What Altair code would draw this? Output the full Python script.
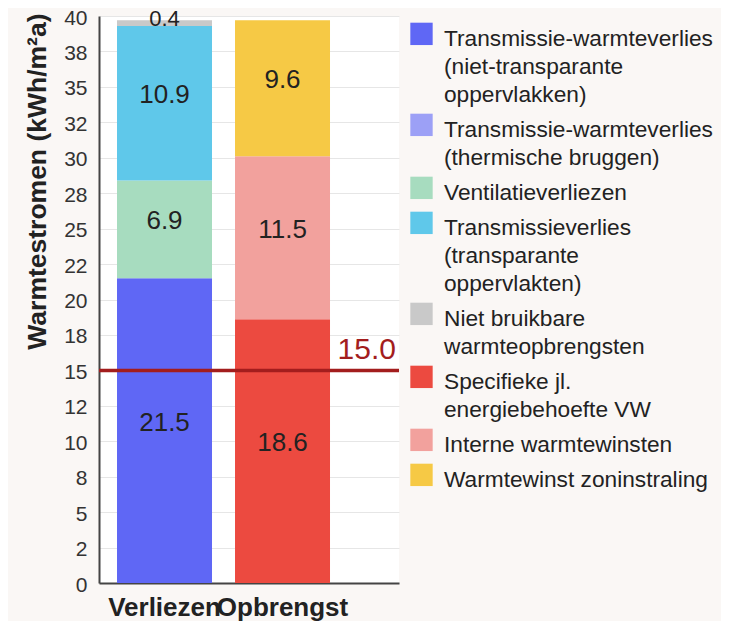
import altair as alt
import pandas as pd

# ---- data ----
BARS = ["Verliezen", "Opbrengst"]
SERIES_LINES = [
    ["Transmissie-warmteverlies", "(niet-transparante", "oppervlakken)"],
    ["Transmissie-warmteverlies", "(thermische bruggen)"],
    ["Ventilatieverliezen"],
    ["Transmissieverlies", "(transparante", "oppervlakten)"],
    ["Niet bruikbare", "warmteopbrengsten"],
    ["Specifieke jl.", "energiebehoefte VW"],
    ["Interne warmtewinsten"],
    ["Warmtewinst zoninstraling"],
]
COLORS = ["#5f67f5", "#9ca0f6", "#a7dcbf", "#5fc8ea", "#c9c9c9", "#ec4a40", "#f2a19d", "#f6c945"]
BAR_OF_SERIES = ["Verliezen", "Verliezen", "Verliezen", "Verliezen", "Verliezen",
                 "Opbrengst", "Opbrengst", "Opbrengst"]
VALUES = [21.5, 0.0, 6.9, 10.9, 0.4, 18.6, 11.5, 9.6]
THRESHOLD = [15.0]
TICK_VALUES = [0, 2.5, 5, 7.5, 10, 12.5, 15, 17.5, 20, 22.5, 25, 27.5, 30, 32.5, 35, 37.5, 40]
TICK_LABELS = ["0", "2", "5", "8", "10", "12", "15", "18", "20", "22", "25", "28", "30", "32", "35", "38", "40"]

INDENT = "\u2002"
SERIES = ["|".join([lines[0]] + [INDENT + l for l in lines[1:]]) for lines in SERIES_LINES]

df = pd.DataFrame({
    "bar": BAR_OF_SERIES,
    "series": SERIES,
    "order": list(range(len(SERIES))),
    "value": VALUES,
})
df_thr = pd.DataFrame({"thr": THRESHOLD})

FONT = "Liberation Sans"
label_expr = "[" + ",".join("'%s'" % t for t in TICK_LABELS) + "][indexof([" + \
    ",".join(str(v) for v in TICK_VALUES) + "], datum.value)]"

base = alt.Chart(df).transform_stack(
    stack="value", groupby=["bar"], sort=[alt.SortField("order", order="ascending")],
    as_=["y0", "y1"]
).transform_calculate(mid="(datum.y0 + datum.y1) / 2")

X_SCALE = alt.Scale(paddingInner=0.195, paddingOuter=0.3686, align=0.207)
x_axis = alt.Axis(labelAngle=0, labelFont=FONT, labelFontSize=26, labelFontWeight="bold",
                  labelColor="#222222", labelPadding=11, ticks=False, domainColor="#444444",
                  domainWidth=2, labelOverlap=False, grid=False, labelBaseline="top",
                  labelLineHeight=26)

Y_SCALE = alt.Scale(domain=[0, 40], nice=False)
y_axis = alt.Axis(
    values=TICK_VALUES, labelExpr=label_expr, grid=True, gridColor="#e6e6e6", gridWidth=1,
    ticks=False, domainColor="#444444", domainWidth=2, labelFont=FONT, labelFontSize=21,
    labelColor="#333333", labelPadding=12, labelOverlap=False, labelOffset=2,
    labelLineHeight=21,
    title="Warmtestromen (kWh/m²a)", titleFont=FONT, titleFontSize=26.5, titleFontWeight="bold",
    titleColor="#222222", titleAngle=270, titleAlign="right", titleBaseline="middle",
    titleX=-62, titleY=-3,
)
Y_TITLE = "Warmtestromen (kWh/m²a)"


def xenc():
    return alt.X("bar:N", sort=BARS, title=None, scale=X_SCALE, axis=x_axis)


def yenc(field):
    return alt.Y(field, title=Y_TITLE, scale=Y_SCALE, axis=y_axis)


bars = base.mark_bar().encode(
    x=xenc(),
    y=yenc("y0:Q"),
    y2="y1:Q",
    color=alt.Color(
        "series:N",
        scale=alt.Scale(domain=SERIES, range=COLORS),
        legend=alt.Legend(
            title=None, orient="none", legendX=311, legendY=0, padding=0,
            symbolType="M-1,-0.43H1V1.57H-1Z", symbolSize=500, symbolStrokeWidth=0,
            symbolOpacity=1,
            labelFont=FONT, labelFontSize=22.7, labelColor="#222222", labelOffset=11,
            labelLimit=400, labelBaseline="top", rowPadding=-0.4,
            labelExpr="split(datum.label, '|')",
        ),
    ),
    order=alt.Order("order:Q"),
)

labels = base.transform_filter("datum.value >= 1").mark_text(
    font=FONT, color="#222222", baseline="alphabetic", align="center", fontSize=26
).encode(
    x=xenc(),
    y=yenc("mid:Q"),
    text=alt.Text("value:Q", format=".1f"),
)

small_labels = base.transform_filter("datum.value > 0 && datum.value < 1").mark_text(
    font=FONT, color="#222222", baseline="alphabetic", align="center", fontSize=22, dy=2.5
).encode(
    x=xenc(),
    y=yenc("mid:Q"),
    text=alt.Text("value:Q", format=".1f"),
)

rule = alt.Chart(df_thr).mark_rule(color="#a31d1d", strokeWidth=3.5).encode(
    y=yenc("thr:Q")
)
rule_text = alt.Chart(df_thr).mark_text(
    font=FONT, fontSize=30, color="#a31d1d", align="right", baseline="alphabetic", dy=-11
).encode(
    x=alt.value(297),
    y=yenc("thr:Q"),
    text=alt.Text("thr:Q", format=".1f"),
)

chart = alt.layer(bars, labels, small_labels, rule, rule_text).properties(
    width=300, height=567,
    autosize="none",
    padding={"left": 91, "top": 8, "right": 322, "bottom": 38},
    background="#faf7f5",
).configure(
    style={"guide-label": {"lineHeight": 28}},
    view=alt.ViewConfig(fill="white", stroke=None),
)

chart.save("out.html", embed_options={"renderer": "svg", "actions": False})
